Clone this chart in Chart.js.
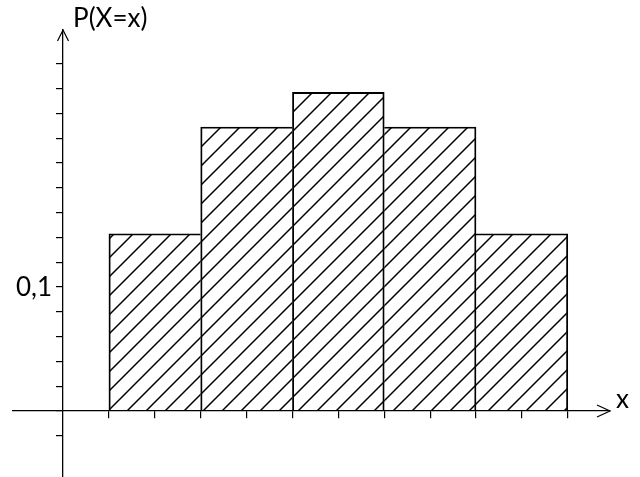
<!DOCTYPE html>
<html>
<head>
<meta charset="utf-8">
<title>P(X=x)</title>
<script src="https://cdn.jsdelivr.net/npm/chart.js@4.4.0/dist/chart.umd.min.js"></script>
<style>
  html, body { margin: 0; padding: 0; background: #fff; }
  canvas { display: block; }
</style>
</head>
<body>
<canvas id="chart" width="640" height="477"></canvas>
<script>
// Histogram of P(X=x): hatched bars drawn on axes that cross at the origin

const barCenters = [2, 4, 6, 8, 10];
const probabilities = [0.143, 0.229, 0.257, 0.229, 0.143];
const xTickValues = [1, 2, 3, 4, 5, 6, 7, 8, 9, 10, 11];
const yTickValues = [-0.02, 0, 0.02, 0.04, 0.06, 0.08, 0.1, 0.12, 0.14, 0.16, 0.18, 0.2, 0.22, 0.24, 0.26, 0.28];
const yLabelValues = [0.1];
const yLabelTexts = ['0,1'];
const xTitle = 'x';
const yTitle = 'P(X=x)';

const FONT = 'Lato';
const FONT_SIZE = 26;
const X_MIN = -1.09, X_MAX = 11.92;
const Y_MIN = -0.0532, Y_MAX = 0.3073;
const EDGE = 1.2;

// diagonal hatch used as bar fill
function makeHatch(gap, color) {
    const tile = document.createElement('canvas');
    tile.width = gap;
    tile.height = gap;
    const c = tile.getContext('2d');
    c.strokeStyle = color;
    c.lineWidth = 1.5;
    c.beginPath();
    c.moveTo(-1, gap + 1); c.lineTo(gap + 1, -1);
    c.moveTo(-2, 2); c.lineTo(2, -2);
    c.moveTo(gap - 2, gap + 2); c.lineTo(gap + 2, gap - 2);
    c.stroke();
    const pattern = c.createPattern(tile, 'repeat');
    pattern.setTransform(new DOMMatrix([1, 0, 0, 1, 6, 0]));
    return pattern;
}

function fixedTicks(values) {
    return function(scale) {
        scale.ticks = values.map(v => ({ value: v }));
    };
}

// each shared edge is drawn once, by the taller of the two bars
function barEdges(c) {
    const i = c.dataIndex;
    const v = probabilities[i];
    const prev = i > 0 ? probabilities[i - 1] : -Infinity;
    const next = i < probabilities.length - 1 ? probabilities[i + 1] : -Infinity;
    return {
        top: EDGE,
        left: prev <= v ? EDGE : 0,
        right: next < v ? EDGE : 0,
        bottom: 0
    };
}

// arrow heads, axis titles and the single y label
// (labels of an axis placed at x=0 sit on top of the tick marks, so they are drawn here)
const axisDecor = {
    id: 'axisDecor',
    afterDraw(chart) {
        const { ctx, scales: { x, y } } = chart;
        const ox = x.getPixelForValue(0);
        const oy = y.getPixelForValue(0);
        const xEnd = x.right;
        const yEnd = y.top;
        const tickLen = y.options.grid.tickLength;
        ctx.save();
        ctx.strokeStyle = '#000';
        ctx.lineWidth = 1.2;
        ctx.beginPath();
        ctx.moveTo(xEnd - 13, oy - 6); ctx.lineTo(xEnd, oy); ctx.lineTo(xEnd - 13, oy + 6);
        ctx.moveTo(ox - 5.5, yEnd + 11); ctx.lineTo(ox, yEnd); ctx.lineTo(ox + 5.5, yEnd + 11);
        ctx.stroke();
        ctx.fillStyle = '#000';
        ctx.font = FONT_SIZE + 'px ' + FONT;
        ctx.textBaseline = 'alphabetic';
        ctx.textAlign = 'left';
        ctx.fillText(yTitle, ox + 10, yEnd - 3);
        ctx.fillText(xTitle, xEnd + 6, oy - 3);
        ctx.textAlign = 'right';
        ctx.textBaseline = 'middle';
        yLabelValues.forEach((v, i) => {
            ctx.fillText(yLabelTexts[i], ox - tickLen - 5, y.getPixelForValue(v) + 1);
        });
        ctx.restore();
    }
};

const ctx = document.getElementById('chart');
const hatch = makeHatch(19, '#000');

new Chart(ctx, {
    type: 'bar',
    data: {
        datasets: [{
            data: barCenters.map((c, i) => ({ x: c, y: probabilities[i] })),
            xAxisID: 'xb',
            yAxisID: 'y',
            backgroundColor: hatch,
            borderColor: '#000',
            borderWidth: barEdges,
            barPercentage: 1,
            categoryPercentage: 1
        }]
    },
    options: {
        responsive: false,
        animation: false,
        layout: { padding: { left: 13, right: 30, top: 30, bottom: 0 } },
        plugins: {
            legend: { display: false },
            tooltip: { enabled: false }
        },
        scales: {
            xb: {
                type: 'linear',
                display: false,
                offset: false,
                min: X_MIN,
                max: X_MAX,
                afterBuildTicks: fixedTicks([])
            },
            x: {
                type: 'linear',
                position: { y: 0 },
                offset: false,
                min: X_MIN,
                max: X_MAX,
                afterBuildTicks: fixedTicks(xTickValues),
                border: { display: true, color: '#000', width: 1.3 },
                grid: { offset: false, drawOnChartArea: false, drawTicks: true, tickLength: 7, color: '#000', lineWidth: 1.2 },
                ticks: { display: false, autoSkip: false }
            },
            y: {
                type: 'linear',
                position: { x: 0 },
                min: Y_MIN,
                max: Y_MAX,
                afterBuildTicks: fixedTicks(yTickValues),
                border: { display: true, color: '#000', width: 1.3 },
                grid: { drawOnChartArea: false, drawTicks: true, tickLength: 6, color: '#000', lineWidth: 1.2 },
                ticks: { display: false, autoSkip: false }
            }
        }
    },
    plugins: [axisDecor]
});
</script>
</body>
</html>
